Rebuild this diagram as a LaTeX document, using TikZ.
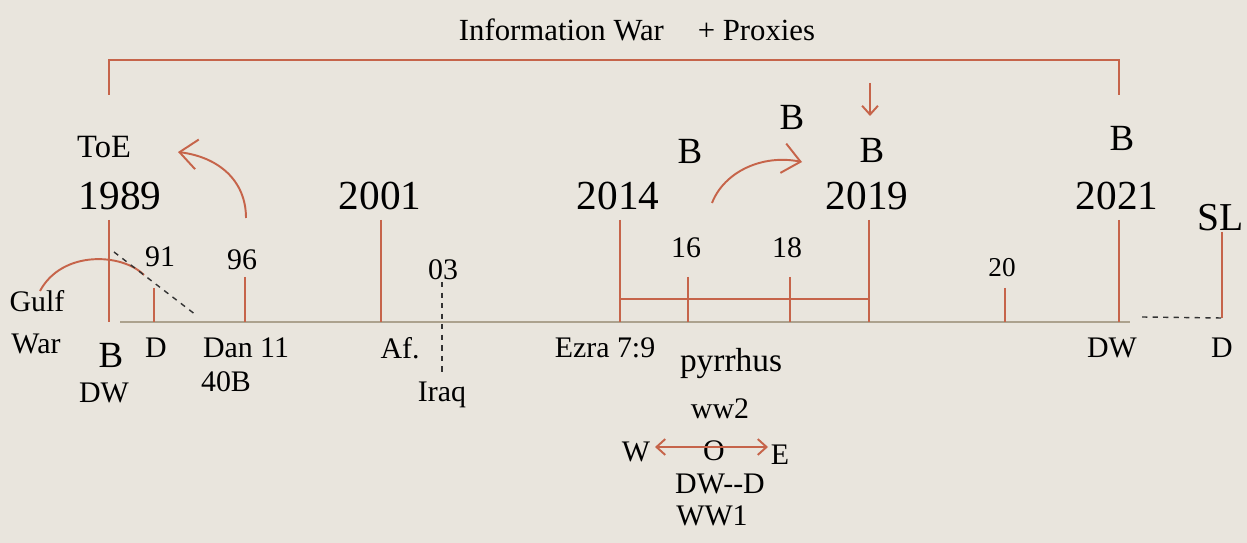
\documentclass[tikz,border=0pt]{standalone}
\usepackage{fontspec}
\setmainfont{Liberation Serif}
\usetikzlibrary{arrows.meta}
\definecolor{bg}{RGB}{233,229,221}
\definecolor{rust}{RGB}{198,100,74}
\definecolor{axisc}{RGB}{172,162,142}
\begin{document}
\begin{tikzpicture}[x=0.02cm,y=-0.02cm,
  red/.style={draw=rust, line width=1.1pt},
  lbl/.style={inner sep=0pt, font=\fontsize{17}{19}\selectfont},
  yr/.style={inner sep=0pt, font=\fontsize{23.5}{26}\selectfont},
  bb/.style={inner sep=0pt, font=\fontsize{21}{23}\selectfont},
  bigarr/.style={-{Straight Barb[length=10pt,width=17pt,line width=1.1pt]}},
  smallarr/.style={-{Straight Barb[length=5pt,width=9pt,line width=1.1pt]}},
  dblarr/.style={{Straight Barb[length=5pt,width=9pt,line width=1.1pt]}-{Straight Barb[length=5pt,width=9pt,line width=1.1pt]}},
  dashln/.style={draw=black!80, dashed, line width=0.8pt}
]
\fill[bg] (0,0) rectangle (1247,543);
\useasboundingbox (0,0) rectangle (1247,543);

% main axis
\coordinate (axL) at (120,322);
\coordinate (axR) at (1130,322);
\draw[axisc, line width=1.7pt] (axL) -- (axR);

% top bracket
\node[lbl, font=\fontsize{17.5}{20}\selectfont] (title) at (637,30) {Information War\hspace{1.1em}+ Proxies};
\coordinate (brL0) at (109,95);
\coordinate (brL1) at (109,60);
\coordinate (brR1) at (1119,60);
\coordinate (brR0) at (1119,95);
\draw[red] (brL0) -- (brL1) -- (brR1) -- (brR0);

% 1989
\node[lbl, font=\fontsize{18.5}{20}\selectfont] (toe) at (104,147) {ToE};
\node[yr] (y1989) at (120,196) {1989};
\coordinate (t89a) at (109,220);
\coordinate (t89b) at (109,322);
\draw[red] (t89a) -- (t89b);
\node[lbl] (gulf) at (37,301) {Gulf};
\node[lbl] (war) at (36,344) {War};
\coordinate (g0) at (40,291);
\coordinate (g1) at (144,275);
\draw[red] (g0) .. controls (62,250) and (122,253) .. (g1);
\node[bb] (b89) at (111,355) {B};
\node[lbl] (dw89) at (104,393) {DW};

% 91
\node[lbl] (n91) at (160,257) {91};
\coordinate (t91a) at (154,288);
\coordinate (t91b) at (154,322);
\draw[red] (t91a) -- (t91b);
\node[lbl] (d91) at (156,348) {D};
\coordinate (ds0) at (114,252);
\coordinate (ds1) at (196,315);
\draw[dashln] (ds0) -- (ds1);

% 96
\node[lbl] (n96) at (242,260) {96};
\coordinate (t96a) at (245,277);
\coordinate (t96b) at (245,322);
\draw[red] (t96a) -- (t96b);
\node[lbl] (dan) at (246,348) {Dan 11};
\node[lbl] (b40) at (226,382) {40B};
\coordinate (a96s) at (246,218);
\coordinate (a96e) at (178,152);
\draw[red, bigarr] (a96s) .. controls (246,180) and (218,157) .. (a96e);

% 2001
\node[yr] (y2001) at (380,196) {2001};
\coordinate (t01a) at (381,220);
\coordinate (t01b) at (381,322);
\draw[red] (t01a) -- (t01b);
\node[lbl] (af) at (400,348) {Af.};

% 03
\node[lbl] (n03) at (443,270) {03};
\coordinate (t03a) at (442,282);
\coordinate (t03b) at (442,372);
\draw[dashln] (t03a) -- (t03b);
\node[lbl] (iraq) at (442,395) {Iraq};

% 2014
\node[yr] (y2014) at (618,196) {2014};
\coordinate (t14a) at (620,220);
\coordinate (t14b) at (620,322);
\draw[red] (t14a) -- (t14b);
\node[lbl] (ezra) at (605,348) {Ezra 7:9};
\coordinate (brk0) at (620,299);
\coordinate (brk1) at (869,299);
\draw[red] (brk0) -- (brk1);

% 16, 18
\node[lbl] (n16) at (686,248) {16};
\coordinate (t16a) at (688,277);
\coordinate (t16b) at (688,322);
\draw[red] (t16a) -- (t16b);
\node[lbl] (n18) at (787,248) {18};
\coordinate (t18a) at (790,277);
\coordinate (t18b) at (790,322);
\draw[red] (t18a) -- (t18b);
\node[bb] (b16) at (690,151) {B};
\node[bb] (b18) at (792,117) {B};
\coordinate (a14s) at (712,203);
\coordinate (a14e) at (802,162);
\draw[red, bigarr] (a14s) .. controls (724,172) and (762,154) .. (a14e);

% 2019
\coordinate (dn0) at (870,83);
\coordinate (dn1) at (870,116);
\draw[red, smallarr] (dn0) -- (dn1);
\node[bb] (b19) at (872,150) {B};
\node[yr] (y2019) at (867,196) {2019};
\coordinate (t19a) at (869,220);
\coordinate (t19b) at (869,322);
\draw[red] (t19a) -- (t19b);

% pyrrhus group
\node[lbl, font=\fontsize{19}{21}\selectfont] (pyr) at (731,364) {pyrrhus};
\node[lbl] (ww2) at (720,409) {ww2};
\node[lbl] (wW) at (636,452) {W};
\node[lbl] (oO) at (714,451) {O};
\node[lbl] (eE) at (780,455) {E};
\coordinate (wa) at (655,447);
\coordinate (ea) at (768,447);
\draw[red, dblarr] (wa) -- (ea);
\node[lbl] (dwd) at (720,484) {DW-{}-D};
\node[lbl] (ww1) at (712,516) {WW1};

% 20
\node[lbl, font=\fontsize{15.5}{17}\selectfont] (n20) at (1002,268) {20};
\coordinate (t20a) at (1005,288);
\coordinate (t20b) at (1005,322);
\draw[red] (t20a) -- (t20b);

% 2021
\node[bb] (b21) at (1122,138) {B};
\node[yr] (y2021) at (1117,196) {2021};
\coordinate (t21a) at (1119,220);
\coordinate (t21b) at (1119,322);
\draw[red] (t21a) -- (t21b);
\node[lbl] (dw21) at (1112,348) {DW};

% SL
\node[bb, font=\fontsize{22.5}{24}\selectfont] (sl) at (1221,218) {SL};
\coordinate (tsa) at (1222,232);
\coordinate (tsb) at (1222,318);
\draw[red] (tsa) -- (tsb);
\coordinate (dl0) at (1142,317);
\draw[dashln] (dl0) -- (tsb);
\node[lbl] (dsl) at (1222,348) {D};
\end{tikzpicture}
\end{document}
